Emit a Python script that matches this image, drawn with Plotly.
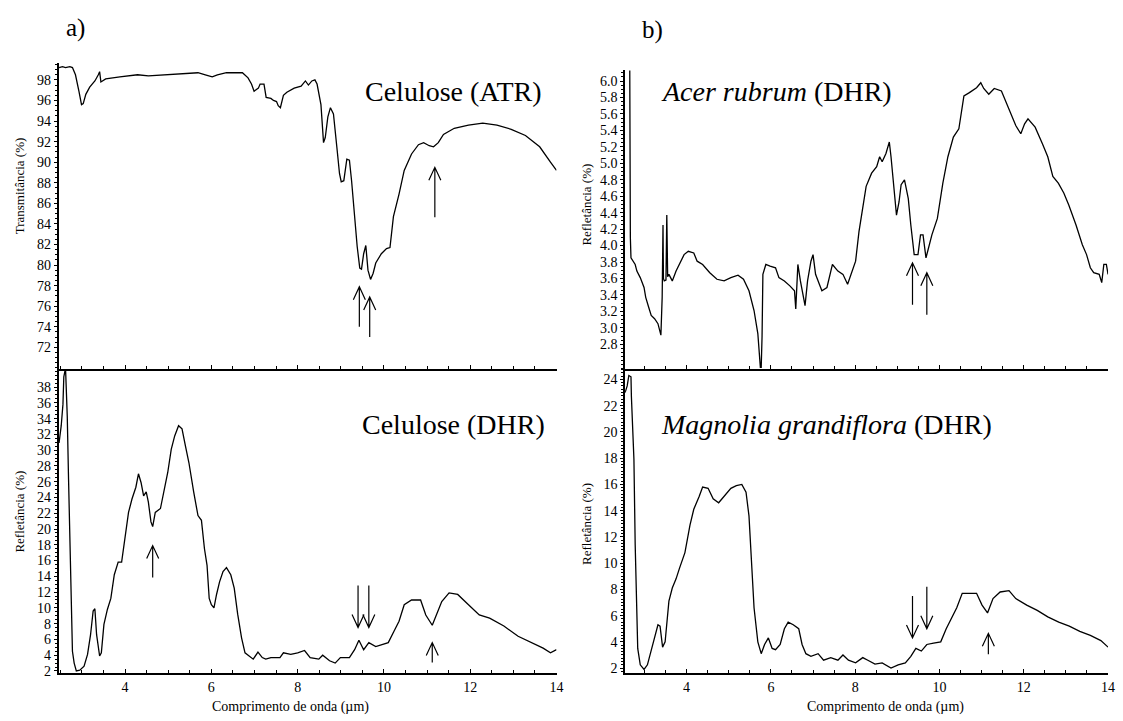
import plotly.graph_objects as go

# ---------------- data ----------------
atr_x = [2.47, 2.55, 2.62, 2.72, 2.78, 2.85, 2.93, 2.99, 3.03, 3.09, 3.18, 3.30, 3.38, 3.41, 3.44, 3.55,
         3.88, 4.29, 4.54, 4.95, 5.69, 5.86, 6.02, 6.14, 6.35, 6.72, 6.85, 6.93, 6.99, 7.09, 7.13,
         7.22, 7.27, 7.38, 7.44, 7.51, 7.55, 7.60, 7.67, 7.75, 7.92, 8.08, 8.18, 8.25, 8.33, 8.40,
         8.45, 8.54, 8.60, 8.64, 8.70, 8.76, 8.83, 8.91, 8.97, 9.01, 9.07, 9.14, 9.20, 9.25, 9.32,
         9.38, 9.44, 9.48, 9.53, 9.58, 9.63, 9.69, 9.75, 9.81, 9.94, 10.06, 10.14, 10.22, 10.35,
         10.47, 10.64, 10.80, 10.92, 11.05, 11.15, 11.26, 11.38, 11.63, 11.96, 12.29, 12.62,
         12.95, 13.28, 13.61, 13.86, 14.0]
atr_y = [99.2, 99.3, 99.2, 99.3, 99.2, 98.5, 96.9, 95.6, 95.7, 96.6, 97.3, 97.9, 98.5, 98.8, 97.8, 98.1,
         98.3, 98.5, 98.4, 98.5, 98.7, 98.5, 98.3, 98.5, 98.7, 98.7, 98.2, 97.6, 96.9, 97.2, 97.6,
         97.6, 96.3, 96.2, 96.0, 95.9, 95.5, 95.3, 96.5, 96.8, 97.2, 97.4, 97.9, 97.5, 97.9, 98.0,
         97.6, 95.6, 91.9, 92.4, 94.4, 95.3, 94.7, 91.4, 88.9, 88.1, 88.2, 90.3, 90.2, 88.2, 84.7,
         81.8, 79.7, 79.6, 81.1, 81.9, 79.5, 78.6, 79.2, 80.2, 81.1, 81.6, 81.7, 84.7, 86.9,
         89.2, 90.8, 91.7, 91.9, 91.6, 91.5, 91.9, 92.7, 93.3, 93.6, 93.8, 93.6,
         93.2, 92.6, 91.5, 90.0, 89.2]

cel_x = [2.47, 2.52, 2.56, 2.58, 2.62, 2.64, 2.66, 2.69, 2.72, 2.75, 2.78, 2.82, 2.87, 2.95, 3.05,
         3.13, 3.20, 3.26, 3.30, 3.34, 3.41, 3.45, 3.51, 3.59, 3.67, 3.75, 3.84, 3.92, 4.00, 4.08,
         4.16, 4.25, 4.31, 4.37, 4.43, 4.49, 4.54, 4.60, 4.64, 4.70, 4.82, 4.91, 4.99, 5.07, 5.15,
         5.24, 5.32, 5.40, 5.48, 5.59, 5.69, 5.77, 5.84, 5.90, 5.95, 6.00, 6.06, 6.12, 6.19, 6.27,
         6.35, 6.45, 6.53, 6.61, 6.70, 6.78, 6.89, 6.97, 7.08, 7.18, 7.26, 7.38, 7.59, 7.67, 7.84,
         8.00, 8.16, 8.29, 8.49, 8.58, 8.74, 8.87, 8.99, 9.20, 9.32, 9.42, 9.53, 9.65, 9.81, 9.98,
         10.10, 10.23, 10.35, 10.47, 10.64, 10.85, 10.97, 11.12, 11.22, 11.34, 11.51, 11.71,
         11.96, 12.21, 12.45, 12.78, 13.11, 13.44, 13.69, 13.86, 14.0]
cel_y = [30.9, 33.1, 35.8, 39.3, 40.4, 37.2, 34.3, 26.3, 19.2, 10.8, 4.5, 3.0, 2.0, 2.1, 2.6,
         4.1, 6.6, 9.6, 9.9, 6.6, 3.9, 4.3, 7.9, 9.8, 11.2, 14.2, 15.8, 15.8, 18.8, 22.1,
         23.8, 25.3, 27.0, 25.9, 24.2, 24.7, 23.4, 20.9, 20.3, 22.1, 22.6, 25.1, 27.2, 30.1, 31.8,
         33.1, 32.7, 30.5, 28.4, 24.7, 21.7, 21.1, 17.5, 15.4, 11.2, 10.4, 10.0, 11.7, 13.3, 14.6,
         15.1, 14.2, 12.5, 9.2, 6.2, 4.3, 3.9, 3.5, 4.4, 3.7, 3.5, 3.7, 3.7, 4.3, 4.1,
         4.3, 4.6, 3.7, 3.5, 4.0, 3.3, 3.0, 3.7, 3.7, 4.7, 5.9, 4.7, 5.6, 5.1, 5.4,
         5.6, 7.0, 8.3, 10.4, 11.0, 11.0, 9.1, 7.8, 9.1, 10.8, 11.9, 11.7,
         10.4, 9.1, 8.7, 7.7, 6.4, 5.6, 4.9, 4.3, 4.7]

acer_x = [2.65, 2.655, 2.66, 2.665, 2.68, 2.74, 2.78, 2.82, 2.90, 2.99, 3.03, 3.10, 3.16, 3.24, 3.32,
          3.39, 3.42, 3.44, 3.45, 3.47, 3.51, 3.53, 3.55, 3.58, 3.66, 3.75, 3.83, 3.94, 4.04,
          4.17, 4.25, 4.38, 4.55, 4.72, 4.89, 5.05, 5.22, 5.35, 5.48, 5.60, 5.69, 5.73, 5.75,
          5.77, 5.79, 5.81, 5.88, 5.98, 6.11, 6.19, 6.32, 6.45, 6.56, 6.59, 6.64, 6.70, 6.81,
          6.87, 6.95, 7.00, 7.06, 7.15, 7.21, 7.33, 7.46, 7.59, 7.71, 7.82, 7.92, 8.01, 8.09,
          8.18, 8.26, 8.39, 8.51, 8.58, 8.64, 8.73, 8.81, 8.85, 8.92, 8.98, 9.04, 9.09, 9.17,
          9.26, 9.32, 9.40, 9.49, 9.55, 9.61, 9.68, 9.74, 9.82, 9.95, 10.08, 10.20, 10.33,
          10.46, 10.58, 10.71, 10.88, 10.98, 11.05, 11.17, 11.30, 11.47, 11.64, 11.81, 11.93,
          12.02, 12.10, 12.27, 12.44, 12.57, 12.69, 12.82, 12.95, 13.07, 13.24, 13.39, 13.49,
          13.58, 13.66, 13.79, 13.85, 13.90, 13.96, 14.0]
acer_y = [6.30, 5.22, 5.80, 4.10, 3.85, 3.80, 3.77, 3.69, 3.61, 3.49, 3.37, 3.25, 3.15, 3.11, 3.05,
          2.91, 3.37, 4.25, 3.60, 3.57, 3.58, 4.37, 3.62, 3.65, 3.57, 3.69, 3.77, 3.89, 3.93,
          3.91, 3.81, 3.77, 3.67, 3.59, 3.57, 3.61, 3.64, 3.59, 3.45, 3.21, 2.93, 2.65, 2.52,
          2.52, 2.89, 3.65, 3.77, 3.75, 3.73, 3.61, 3.57, 3.51, 3.45, 3.23, 3.77, 3.57, 3.27,
          3.57, 3.81, 3.89, 3.65, 3.53, 3.45, 3.49, 3.77, 3.69, 3.65, 3.53, 3.69, 3.81, 4.17,
          4.49, 4.72, 4.88, 4.96, 5.08, 5.02, 5.12, 5.26, 5.08, 4.64, 4.37, 4.53, 4.74, 4.80,
          4.57, 4.25, 3.89, 3.89, 4.13, 4.13, 3.85, 3.97, 4.13, 4.33, 4.76, 5.08, 5.32,
          5.42, 5.82, 5.86, 5.92, 5.98, 5.91, 5.84, 5.91, 5.88, 5.68, 5.46, 5.36,
          5.48, 5.54, 5.44, 5.24, 5.08, 4.84, 4.76, 4.64, 4.49, 4.25, 4.01, 3.89,
          3.73, 3.67, 3.65, 3.55, 3.77, 3.77, 3.65]

mag_x = [2.54, 2.59, 2.63, 2.68, 2.69, 2.71, 2.75, 2.78, 2.81, 2.84, 2.90, 2.99, 3.07, 3.16, 3.24,
         3.32, 3.37, 3.43, 3.49, 3.58, 3.66, 3.75, 3.83, 3.96, 4.08, 4.17, 4.30, 4.38, 4.51, 4.63,
         4.76, 4.89, 5.05, 5.18, 5.31, 5.41, 5.48, 5.54, 5.60, 5.69, 5.77, 5.85, 5.94, 6.03, 6.11,
         6.22, 6.32, 6.41, 6.53, 6.66, 6.74, 6.83, 6.95, 7.12, 7.25, 7.42, 7.59, 7.71, 7.84, 8.01,
         8.18, 8.30, 8.47, 8.64, 8.85, 9.02, 9.19, 9.32, 9.44, 9.57, 9.70, 9.86, 10.03, 10.16,
         10.29, 10.41, 10.54, 10.71, 10.88, 11.01, 11.14, 11.27, 11.44, 11.65, 11.81, 12.07,
         12.32, 12.57, 12.83, 13.08, 13.33, 13.58, 13.83, 14.0]
mag_y = [23.0, 23.5, 24.3, 24.2, 22.7, 20.5, 17.9, 11.4, 6.3, 3.5, 2.25, 1.9, 2.25, 3.3, 4.3,
         5.3, 5.2, 3.6, 4.0, 7.1, 8.1, 8.8, 9.6, 10.8, 12.9, 14.1, 15.1, 15.8, 15.7, 14.9,
         14.6, 15.1, 15.7, 15.9, 16.0, 15.4, 13.6, 10.1, 6.6, 4.0, 3.1, 3.8, 4.3, 3.5, 3.4,
         3.8, 5.0, 5.5, 5.3, 5.0, 3.8, 3.1, 2.9, 3.1, 2.6, 2.8, 2.6, 3.0, 2.6, 2.4,
         2.8, 2.6, 2.3, 2.4, 2.0, 2.25, 2.4, 2.9, 3.5, 3.3, 3.8, 3.9, 4.0, 5.0,
         5.8, 6.6, 7.7, 7.7, 7.7, 6.8, 6.2, 7.3, 7.8, 7.9, 7.3, 6.8,
         6.4, 5.9, 5.5, 5.2, 4.8, 4.5, 4.1, 3.6]

# arrows: (x, tip value, direction, length px)
atr_arrows = [(9.43, 77.9, "up", 40), (9.67, 76.9, "up", 40), (11.18, 89.5, "up", 50)]
cel_arrows = [(4.64, 17.9, "up", 32), (9.40, 7.5, "down", 42), (9.65, 7.5, "down", 42),
              (11.12, 5.6, "up", 20)]
acer_arrows = [(9.36, 3.79, "up", 42), (9.70, 3.67, "up", 42)]
mag_arrows = [(9.36, 4.3, "down", 42), (9.70, 5.0, "down", 42), (11.16, 4.65, "up", 21)]

x_ticks = [4, 6, 8, 10, 12, 14]
atr_ticks = list(range(72, 99, 2))
cel_ticks = list(range(2, 39, 2))
acer_ticks = [round(2.8 + 0.2 * i, 1) for i in range(17)]
mag_ticks = list(range(2, 25, 2))

# ---------------- figure ----------------
W, H = 1123, 721
FONT = "Liberation Serif"

def px_x(p):
    return p / W

def px_y(p):
    return 1 - p / H

LX = [px_x(59), px_x(560)]
RX = [px_x(629), px_x(1115)]
LT = [px_y(372), px_y(64)]
LB = [px_y(679), px_y(372)]
RT = [px_y(372), px_y(71)]
RB = [px_y(679), px_y(372)]

fig = go.Figure()
line = dict(color="black", width=1.3)
fig.add_trace(go.Scatter(x=atr_x, y=atr_y, mode="lines", line=line, xaxis="x", yaxis="y"))
fig.add_trace(go.Scatter(x=cel_x, y=cel_y, mode="lines", line=line, xaxis="x2", yaxis="y2"))
fig.add_trace(go.Scatter(x=acer_x, y=acer_y, mode="lines", line=line, xaxis="x3", yaxis="y3"))
fig.add_trace(go.Scatter(x=mag_x, y=mag_y, mode="lines", line=line, xaxis="x4", yaxis="y4"))

tickfont = dict(family=FONT, size=14, color="black")

def xax(domain, anchor, rng, labels):
    return dict(domain=domain, anchor=anchor, range=rng, tickvals=x_ticks,
                showticklabels=labels, ticks="inside", ticklen=4, tickwidth=1,
                tickcolor="black", showline=True, linecolor="black", linewidth=2,
                showgrid=False, zeroline=False, tickfont=tickfont,
                minor=dict(dtick=0.5, ticks="inside", ticklen=3, tickcolor="black"))

def yax(domain, anchor, rng, vals, minor_dt, fmt=None):
    d = dict(domain=domain, anchor=anchor, range=rng, tickvals=vals,
             ticks="outside", ticklen=3, tickwidth=1, tickcolor="black",
             showline=True, linecolor="black", linewidth=1.5, showgrid=False,
             zeroline=False, tickfont=tickfont,
             minor=dict(dtick=minor_dt, ticks="outside", ticklen=2, tickcolor="black"))
    if fmt:
        d["tickformat"] = fmt
    return d

fig.update_layout(
    width=W, height=H, margin=dict(l=0, r=0, t=0, b=0),
    paper_bgcolor="white", plot_bgcolor="white", showlegend=False,
    font=dict(family=FONT, color="black"),
    xaxis=xax(LX, "y", [2.46, 14], False),
    yaxis=yax(LT, "x", [69.9, 99.6], atr_ticks, 0.5),
    xaxis2=xax(LX, "y2", [2.46, 14], True),
    yaxis2=yax(LB, "x2", [1.7, 40.3], cel_ticks, 0.5),
    xaxis3=xax(RX, "y3", [2.54, 14], False),
    yaxis3=yax(RT, "x3", [2.5, 6.13], acer_ticks, 0.05, ".1f"),
    xaxis4=xax(RX, "y4", [2.54, 14], True),
    yaxis4=yax(RB, "x4", [1.6, 24.8], mag_ticks, 0.25),
)

ann = []
big = dict(family=FONT, size=28, color="black")
ann.append(dict(text="Celulose (ATR)", xref="x domain", yref="y domain", x=0.794, y=0.909,
                xanchor="center", yanchor="middle", showarrow=False, font=big))
ann.append(dict(text="Celulose (DHR)", xref="x2 domain", yref="y2 domain", x=0.794, y=0.818,
                xanchor="center", yanchor="middle", showarrow=False, font=big))
ann.append(dict(text="<i>Acer rubrum</i> (DHR)", xref="x3 domain", yref="y3 domain", x=0.07,
                y=0.93, xanchor="left", yanchor="middle", showarrow=False, font=big))
ann.append(dict(text="<i>Magnolia grandiflora</i> (DHR)", xref="x4 domain", yref="y4 domain",
                x=0.07, y=0.818, xanchor="left", yanchor="middle", showarrow=False, font=big))
ann.append(dict(text="a)", xref="paper", yref="paper", x=px_x(76), y=px_y(28), showarrow=False,
                xanchor="center", yanchor="middle", font=dict(family=FONT, size=25, color="black")))
ann.append(dict(text="b)", xref="paper", yref="paper", x=px_x(657), y=px_y(30), showarrow=False,
                xanchor="center", yanchor="middle", font=dict(family=FONT, size=25, color="black")))
small = dict(family=FONT, size=13, color="black")
for txt, xp, yp in [("Transmitância (%)", 20, 187), ("Refletância (%)", 20, 516),
                    ("Refletância (%)", 590, 206), ("Refletância (%)", 590, 528)]:
    ann.append(dict(text=txt, xref="paper", yref="paper", x=px_x(xp), y=px_y(yp), textangle=-90,
                    showarrow=False, font=small, xanchor="center", yanchor="middle"))
for xp in [292, 891]:
    ann.append(dict(text="Comprimento de onda (µm)", xref="paper", yref="paper", x=px_x(xp),
                    y=px_y(713), showarrow=False, font=dict(family=FONT, size=14, color="black"),
                    xanchor="center", yanchor="middle"))
fig.update_layout(annotations=ann)

shapes = []
def add_arrows(arrows, xr, yr):
    for xv, yv, d, L in arrows:
        if d == "up":
            path = f"M0,0 L0,{-L} M-6,-13 L0,0 L6,-13"
        else:
            path = f"M0,0 L0,{L} M-6,13 L0,0 L6,13"
        shapes.append(dict(type="path", xref=xr, yref=yr, xsizemode="pixel", ysizemode="pixel",
                           xanchor=xv, yanchor=yv, path=path,
                           line=dict(color="black", width=1.2)))

add_arrows(atr_arrows, "x", "y")
add_arrows(cel_arrows, "x2", "y2")
add_arrows(acer_arrows, "x3", "y3")
add_arrows(mag_arrows, "x4", "y4")
fig.update_layout(shapes=shapes)

fig.write_html("out.html", config={"displayModeBar": False},
               post_script="document.body.style.margin='0px';document.body.style.overflow='hidden';")
